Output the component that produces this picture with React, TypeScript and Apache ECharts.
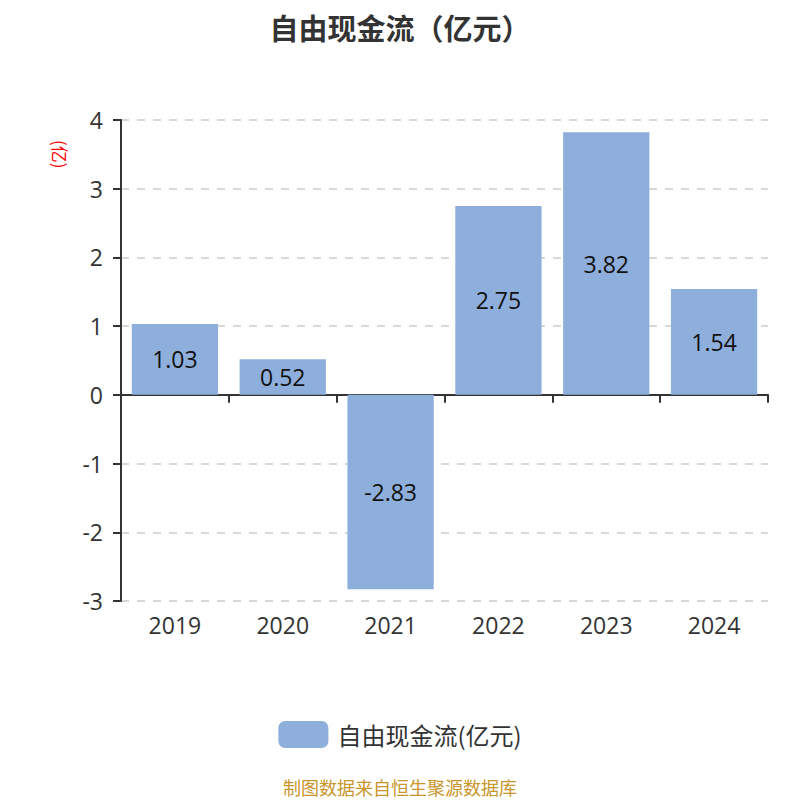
import React, { useEffect, useRef } from 'react';
import * as echarts from 'echarts';

const years = ['2019', '2020', '2021', '2022', '2023', '2024'];
const freeCashFlow = [1.03, 0.52, -2.83, 2.75, 3.82, 1.54];
const seriesName = '自由现金流(亿元)';

const App: React.FC = () => {
  const chartRef = useRef<HTMLDivElement>(null);

  useEffect(() => {
    if (!chartRef.current) return;
    const chart = echarts.init(chartRef.current, undefined, { renderer: 'svg' });
    const font = '"Open Sans", "Noto Sans CJK SC", sans-serif';
    const cjk = '"Noto Sans CJK SC", sans-serif';

    chart.setOption({
      animation: false,
      textStyle: { fontFamily: font },
      title: {
        text: '自由现金流（亿元）',
        left: 'center',
        top: 4,
        padding: 0,
        textStyle: { fontSize: 29, fontWeight: 'bold', color: '#333', fontFamily: cjk, lineHeight: 30 },
      },
      grid: { left: 113, right: 24, top: 112, bottom: 199 },
      legend: {
        top: 708,
        left: 'center',
        itemWidth: 50,
        itemHeight: 27,
        itemGap: 10,
        textStyle: { fontSize: 24, color: '#333', fontFamily: cjk, padding: [0, 0, 0, 4] },
        data: [seriesName],
      },
      graphic: [
        {
          type: 'text',
          x: 61,
          y: 132,
          rotation: -Math.PI / 2,
          style: { text: '(亿)', fill: '#ff0000', fontSize: 17, fontFamily: cjk },
        },
        {
          type: 'text',
          left: 'center',
          top: 770,
          style: { text: '制图数据来自恒生聚源数据库', fill: '#c8962a', fontSize: 18, fontFamily: cjk },
        },
      ],
      xAxis: [
        {
          type: 'category',
          data: years,
          axisLine: { onZero: true, lineStyle: { color: '#333', width: 2 } },
          axisTick: { show: true, length: 8, lineStyle: { color: '#333', width: 2 } },
          axisLabel: { show: false },
        },
        {
          type: 'category',
          data: years,
          position: 'bottom',
          axisLine: { show: false },
          axisTick: { show: false },
          axisLabel: { fontSize: 23, color: '#333', margin: 12, fontFamily: font },
        },
      ],
      yAxis: {
        type: 'value',
        min: -3,
        max: 4,
        interval: 1,
        axisLine: { show: true, lineStyle: { color: '#333', width: 2 } },
        axisTick: { show: true, length: 8, lineStyle: { color: '#333', width: 2 } },
        axisLabel: { fontSize: 23, color: '#333', margin: 18, fontFamily: font },
        splitLine: { lineStyle: { type: [8, 8], color: '#ccc', width: 1.5 } },
      },
      series: [
        {
          name: seriesName,
          type: 'bar',
          xAxisIndex: 0,
          data: freeCashFlow,
          barWidth: '80%',
          itemStyle: { color: '#8eaedb' },
          label: {
            show: true,
            position: 'inside',
            fontSize: 23,
            color: '#111',
            fontFamily: font,
          },
        },
      ],
    });

    return () => {
      chart.dispose();
    };
  }, []);

  return <div ref={chartRef} style={{ width: '784px', height: '792px' }}></div>;
};

export default App;
